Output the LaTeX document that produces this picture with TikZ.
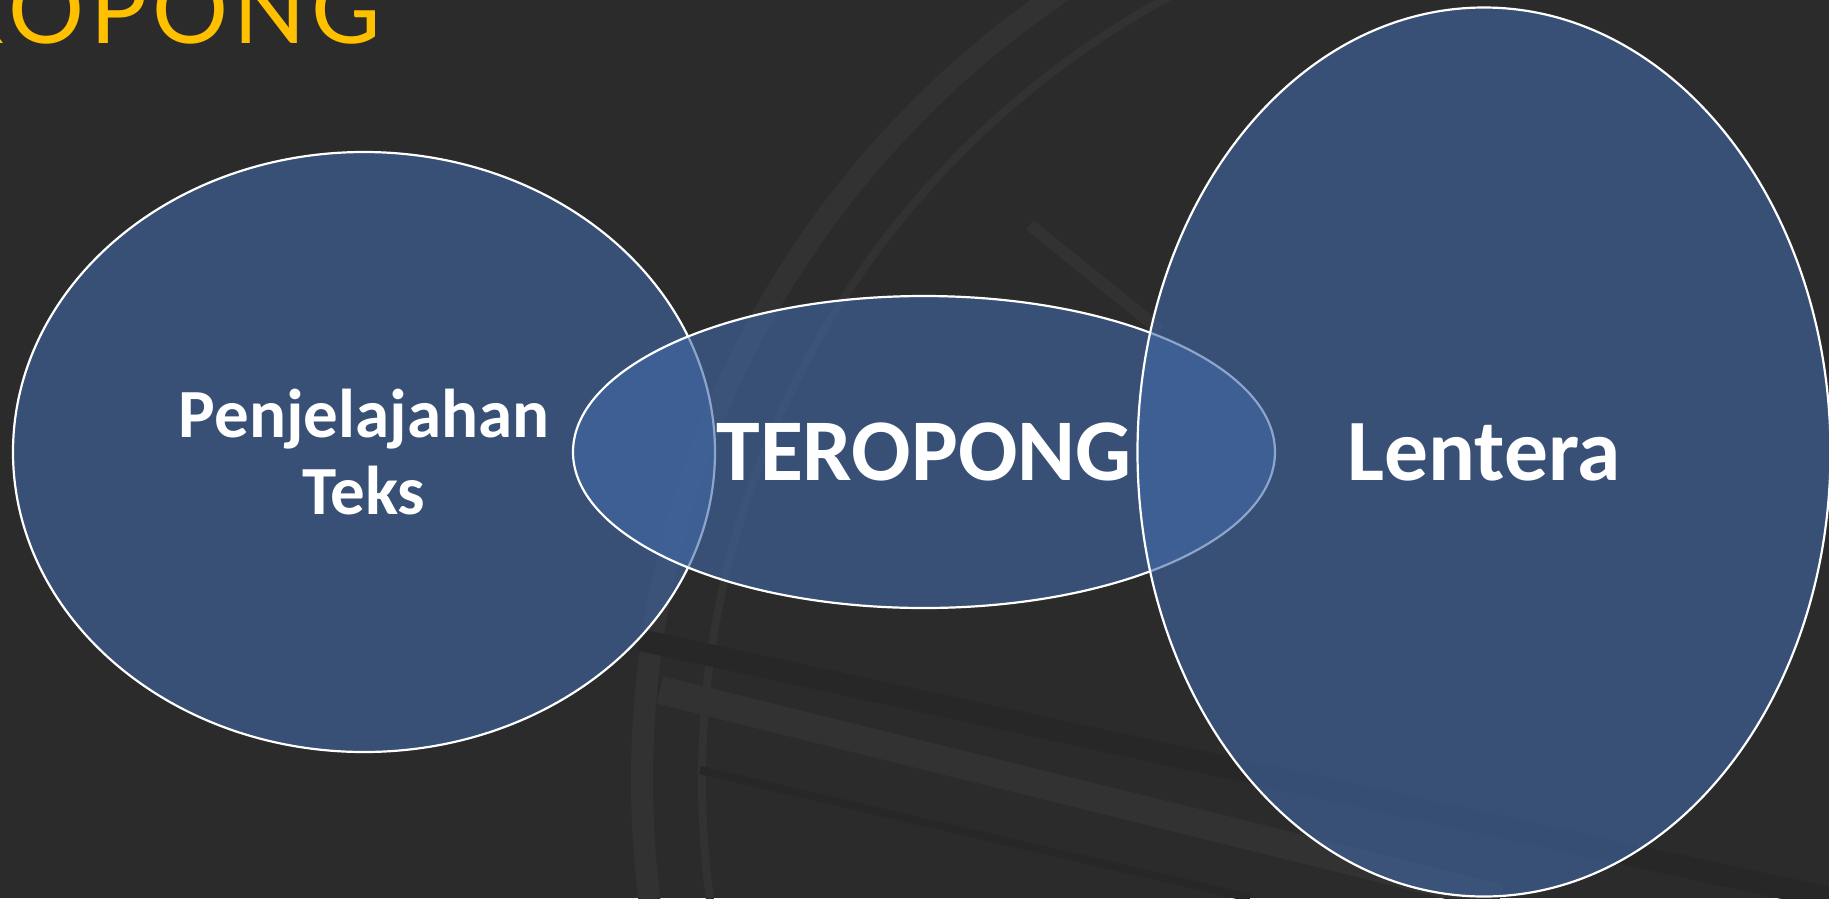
\documentclass[tikz,border=0pt]{standalone}
\usepackage{fontspec}
\setmainfont{Carlito}
\newfontfamily\titlefont[LetterSpace=5.5]{Lato}
\usetikzlibrary{shapes.geometric}
\definecolor{bgcol}{HTML}{2B2B2B}
\definecolor{bglight}{HTML}{323232}
\definecolor{bgdark}{HTML}{272727}
\definecolor{vennblue}{HTML}{4169A8}
\definecolor{titlegold}{HTML}{FFC000}
\begin{document}
\begin{tikzpicture}[x=1pt,y=-1pt,
  venn/.style={ellipse, inner sep=0pt, fill=vennblue, fill opacity=0.6,
    draw=white, draw opacity=1, line width=2.2pt, text opacity=1,
    text=white, font=\bfseries},
  bgstroke/.style={draw=bglight, line cap=butt}]
\useasboundingbox (0,0) rectangle (1829,898);
\begin{scope}
\clip (0,0) rectangle (1829,898);
\fill[bgcol] (0,0) rectangle (1829,898);
% faint telescope wheel in the background
\coordinate (wc) at (1592,780);
\draw[bgstroke, line width=22pt] (wc) circle[radius=950];
\draw[bgstroke, line width=8pt] (wc) circle[radius=890];
\draw[draw=bgdark, line width=22pt] (640,640) -- (1829,898);
\draw[bgstroke, line width=28pt] (660,690) -- (1500,898);
\draw[draw=bgdark, line width=8pt] (700,770) -- (1250,898);
\draw[bgstroke, line width=12pt] (1030,225) -- (1160,330);
\end{scope}
% title (cut by the top-left edge)
\node[anchor=base east, inner sep=0pt, text=titlegold,
  font=\titlefont\fontsize{95}{95}\selectfont] (title) at (381,43) {TEROPONG};
% Venn ellipses
\node[venn, minimum width=702pt, minimum height=600pt,
  font=\bfseries\fontsize{69}{77}\selectfont, align=center] (left) at (364,452)
  {Penjelajahan\\Teks};
\node[venn, minimum width=702pt, minimum height=312pt,
  font=\bfseries\fontsize{88}{88}\selectfont] (mid) at (924,452) {TEROPONG};
\node[venn, minimum width=693pt, minimum height=889pt,
  font=\bfseries\fontsize{87.5}{87.5}\selectfont] (right) at (1484,452) {Lentera};
\end{tikzpicture}
\end{document}
